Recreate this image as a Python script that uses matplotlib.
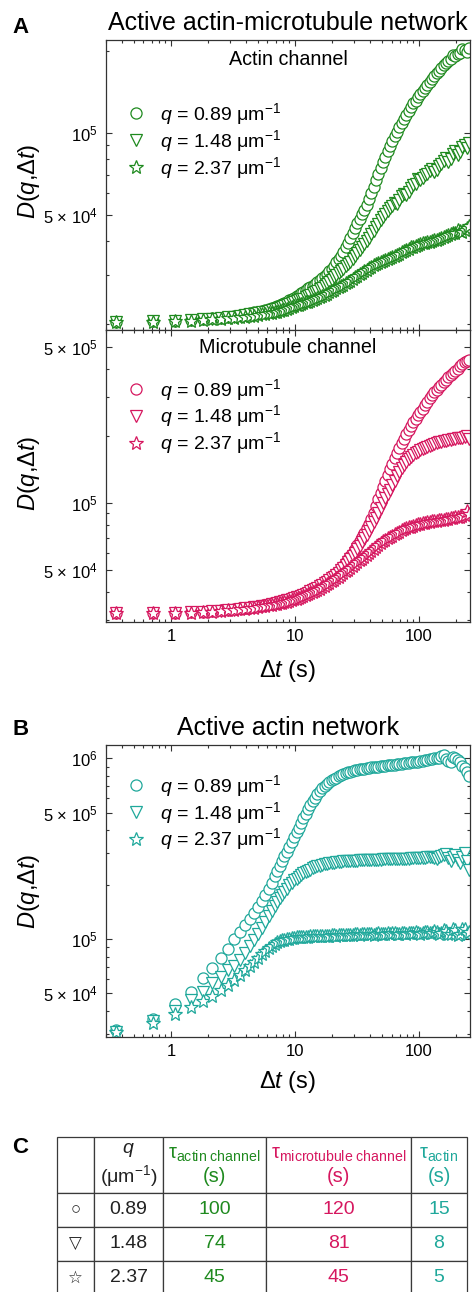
import numpy as np
import matplotlib.pyplot as plt
from matplotlib.ticker import FixedLocator, NullFormatter

plt.rcParams['font.family'] = ['Liberation Sans', 'DejaVu Sans']
plt.rcParams['mathtext.fontset'] = 'custom'
plt.rcParams['mathtext.rm'] = 'Liberation Sans'
plt.rcParams['mathtext.it'] = 'Liberation Sans:italic'
plt.rcParams['mathtext.bf'] = 'Liberation Sans:bold'

# lag times (s)
lag = [0.36, 0.72, 1.08, 1.44, 1.80, 2.16, 2.52, 2.88, 3.24, 3.60,
       3.96, 4.32, 4.68, 5.04, 5.40, 5.76, 6.12, 6.48, 6.84, 7.20,
       7.5, 7.9, 8.2, 8.6, 9.0, 9.4, 9.8, 10.3, 10.7, 11.2,
       11.7, 12.2, 12.7, 13.3, 13.9, 14.5, 15.1, 15.8, 16.5, 17.3,
       18.1, 18.9, 19.7, 20.6, 21.5, 22.5, 23.5, 24.5, 25.6, 26.7,
       27.9, 29.1, 30.4, 31.8, 33.2, 34.6, 36.2, 37.8, 39.5, 41.2,
       43.0, 44.9, 46.9, 49.0, 51.2, 53.4, 55.8, 58.2, 60.8, 63.5,
       66.3, 69.2, 72.3, 75.5, 78.8, 82.3, 86.0, 89.8, 93.8, 97.9,
       102.3, 106.8, 111.5, 116.4, 121.6, 127.0, 132.6, 138.5, 144.6, 151.0,
       157.7, 164.7, 172.0, 179.6, 187.6, 195.9, 204.6, 213.6, 223.1, 233.0,
       241.0, 250.0]

# D(q, dt) in units of 1e4
# active actin-microtubule network, actin channel
am_actin_q1 = [2.03, 2.04, 2.05, 2.06, 2.07, 2.09, 2.10, 2.12, 2.14, 2.15,
               2.17, 2.18, 2.20, 2.21, 2.23, 2.24, 2.26, 2.28, 2.30, 2.32,
               2.34, 2.36, 2.38, 2.40, 2.43, 2.46, 2.49, 2.52, 2.55, 2.59,
               2.62, 2.66, 2.69, 2.72, 2.75, 2.79, 2.84, 2.89, 2.94, 2.99,
               3.05, 3.11, 3.18, 3.25, 3.35, 3.45, 3.55, 3.66, 3.80, 3.95,
               4.12, 4.29, 4.48, 4.67, 4.85, 5.04, 5.23, 5.43, 5.70, 6.01,
               6.35, 6.71, 7.05, 7.43, 7.80, 8.15, 8.55, 8.94, 9.35, 9.73,
               10.1, 10.5, 10.9, 11.2, 11.6, 12.0, 12.4, 12.8, 13.1, 13.5,
               13.9, 14.2, 14.6, 15.0, 15.3, 15.7, 16.2, 16.6, 16.9, 17.3,
               17.7, 18.0, 18.3, 18.6, 19.2, 19.1, 19.4, 19.6, 20.3, 20.1,
               19.8, 20.4]
am_actin_q2 = [2.03, 2.04, 2.05, 2.06, 2.07, 2.08, 2.09, 2.11, 2.12, 2.14,
               2.15, 2.16, 2.17, 2.19, 2.20, 2.21, 2.23, 2.24, 2.26, 2.27,
               2.28, 2.30, 2.31, 2.33, 2.35, 2.37, 2.39, 2.41, 2.43, 2.45,
               2.47, 2.50, 2.52, 2.55, 2.58, 2.61, 2.64, 2.67, 2.71, 2.75,
               2.79, 2.84, 2.89, 2.95, 3.00, 3.06, 3.12, 3.18, 3.24, 3.30,
               3.37, 3.45, 3.53, 3.62, 3.71, 3.80, 3.90, 4.00, 4.12, 4.24,
               4.37, 4.50, 4.65, 4.80, 4.92, 5.05, 5.15, 5.28, 5.40, 5.55,
               5.50, 5.65, 5.85, 5.95, 5.90, 6.05, 6.30, 6.45, 6.50, 6.75,
               6.70, 6.85, 7.00, 7.05, 7.25, 7.35, 7.15, 7.30, 7.55, 7.70,
               7.85, 8.10, 7.80, 8.00, 8.35, 8.60, 8.30, 8.50, 8.85, 9.00,
               8.80, 9.20]
am_actin_q3 = [2.02, 2.03, 2.04, 2.05, 2.06, 2.07, 2.08, 2.09, 2.10, 2.11,
               2.12, 2.13, 2.14, 2.15, 2.16, 2.17, 2.18, 2.19, 2.20, 2.21,
               2.22, 2.24, 2.25, 2.27, 2.28, 2.30, 2.31, 2.33, 2.34, 2.36,
               2.37, 2.39, 2.40, 2.42, 2.44, 2.46, 2.48, 2.50, 2.52, 2.55,
               2.57, 2.60, 2.63, 2.66, 2.69, 2.72, 2.75, 2.78, 2.81, 2.84,
               2.87, 2.91, 2.95, 2.99, 3.03, 3.07, 3.11, 3.15, 3.19, 3.23,
               3.27, 3.30, 3.34, 3.37, 3.40, 3.43, 3.46, 3.49, 3.52, 3.55,
               3.58, 3.61, 3.65, 3.68, 3.72, 3.76, 3.80, 3.83, 3.86, 3.88,
               3.91, 3.93, 3.95, 3.97, 3.99, 4.01, 4.04, 4.06, 4.09, 4.12,
               4.16, 4.19, 4.22, 4.25, 4.28, 4.30, 4.40, 4.36, 4.32, 4.42,
               4.46, 4.55]
# active actin-microtubule network, microtubule channel
am_mt_q1 = [3.21, 3.22, 3.23, 3.24, 3.26, 3.28, 3.30, 3.32, 3.35, 3.37,
            3.39, 3.41, 3.43, 3.45, 3.47, 3.50, 3.52, 3.55, 3.57, 3.60,
            3.62, 3.64, 3.66, 3.69, 3.72, 3.75, 3.78, 3.82, 3.85, 3.89,
            3.93, 3.97, 4.01, 4.06, 4.11, 4.16, 4.22, 4.28, 4.35, 4.42,
            4.50, 4.58, 4.67, 4.76, 4.87, 4.98, 5.11, 5.25, 5.42, 5.60,
            5.80, 6.00, 6.25, 6.50, 6.77, 7.05, 7.37, 7.70, 8.08, 8.50,
            9.05, 9.70, 10.4, 11.1, 11.8, 12.6, 13.4, 14.2, 15.0, 15.9,
            16.7, 17.6, 18.5, 19.4, 20.3, 21.2, 22.1, 23.0, 23.9, 24.8,
            25.6, 26.5, 27.5, 28.5, 29.5, 30.5, 31.4, 32.3, 33.1, 34.0,
            34.9, 35.8, 36.6, 37.5, 38.4, 39.3, 40.1, 41.0, 41.9, 42.8,
            43.4, 44.0]
am_mt_q2 = [3.21, 3.22, 3.23, 3.24, 3.25, 3.27, 3.29, 3.31, 3.33, 3.35,
            3.37, 3.39, 3.41, 3.43, 3.45, 3.47, 3.50, 3.52, 3.54, 3.57,
            3.59, 3.61, 3.63, 3.66, 3.68, 3.71, 3.74, 3.78, 3.81, 3.85,
            3.89, 3.93, 3.97, 4.02, 4.07, 4.12, 4.17, 4.23, 4.30, 4.37,
            4.44, 4.52, 4.60, 4.68, 4.78, 4.88, 5.00, 5.12, 5.27, 5.42,
            5.60, 5.78, 5.99, 6.20, 6.44, 6.68, 6.94, 7.20, 7.52, 7.85,
            8.22, 8.60, 9.05, 9.50, 10.0, 10.5, 11.0, 11.5, 12.0, 12.6,
            13.2, 13.8, 14.3, 14.8, 15.3, 15.7, 16.1, 16.4, 16.7, 17.0,
            17.3, 17.5, 17.7, 17.9, 18.1, 18.2, 18.4, 18.5, 18.7, 18.8,
            18.9, 19.0, 19.1, 19.2, 19.3, 19.4, 19.5, 19.5, 19.6, 19.7,
            19.9, 19.3]
am_mt_q3 = [3.20, 3.21, 3.22, 3.23, 3.24, 3.26, 3.28, 3.30, 3.32, 3.34,
            3.36, 3.38, 3.40, 3.42, 3.44, 3.46, 3.48, 3.50, 3.52, 3.54,
            3.56, 3.58, 3.60, 3.62, 3.64, 3.67, 3.70, 3.73, 3.76, 3.80,
            3.83, 3.87, 3.91, 3.95, 3.99, 4.04, 4.09, 4.14, 4.20, 4.26,
            4.32, 4.39, 4.46, 4.53, 4.60, 4.68, 4.76, 4.85, 4.94, 5.03,
            5.12, 5.22, 5.32, 5.42, 5.53, 5.64, 5.76, 5.88, 6.00, 6.12,
            6.25, 6.38, 6.50, 6.62, 6.74, 6.85, 6.95, 7.05, 7.15, 7.25,
            7.35, 7.45, 7.54, 7.62, 7.70, 7.78, 7.85, 7.92, 7.98, 8.03,
            8.08, 8.12, 8.16, 8.20, 8.24, 8.27, 8.30, 8.33, 8.37, 8.40,
            8.44, 8.47, 8.51, 8.55, 8.58, 8.62, 8.66, 8.70, 8.75, 8.80,
            9.20, 8.90]
# active actin network
a_q1 = [3.14, 3.62, 4.38, 5.10, 6.05, 6.95, 7.90, 8.85, 9.95, 11.0,
        11.9, 12.9, 14.0, 15.1, 16.3, 17.5, 19.0, 20.5, 22.2, 23.8,
        25.3, 27.0, 28.7, 30.5, 32.4, 34.5, 36.7, 39.0, 41.4, 44.0,
        46.7, 49.5, 52.2, 55.0, 57.7, 60.5, 63.3, 66.0, 68.3, 70.5,
        72.3, 74.0, 75.6, 77.0, 78.3, 79.5, 80.5, 81.5, 82.5, 83.5,
        84.3, 85.0, 85.7, 86.3, 86.8, 87.3, 87.8, 88.2, 88.6, 89.0,
        89.4, 89.7, 90.0, 90.3, 90.7, 91.0, 91.4, 91.7, 92.0, 92.3,
        92.7, 93.0, 93.4, 93.7, 94.1, 94.5, 94.9, 95.3, 95.6, 96.0,
        96.5, 97.0, 97.5, 98.0, 98.7, 99.5, 100.5, 101.0, 100.0, 103.0,
        104.0, 99.0, 97.0, 96.0, 102.0, 101.0, 98.0, 95.0, 91.0, 88.0,
        84.0, 80.0]
a_q2 = [3.07, 3.50, 4.02, 4.60, 5.11, 5.68, 6.20, 6.70, 7.10, 7.70,
        8.40, 9.20, 9.90, 10.7, 11.5, 12.5, 13.4, 14.3, 15.2, 16.1,
        16.8, 17.5, 18.2, 19.0, 19.8, 20.5, 21.1, 21.6, 22.1, 22.6,
        23.1, 23.5, 23.9, 24.2, 24.6, 24.9, 25.2, 25.4, 25.7, 25.9,
        26.1, 26.2, 26.4, 26.5, 26.6, 26.7, 26.8, 26.9, 27.0, 27.0,
        27.1, 27.1, 27.2, 27.2, 27.3, 27.3, 27.4, 27.4, 27.4, 27.4,
        27.5, 27.5, 27.5, 27.5, 27.6, 27.6, 27.6, 27.6, 27.7, 27.7,
        27.8, 27.8, 27.8, 27.8, 27.9, 27.9, 28.0, 28.0, 28.0, 28.0,
        28.1, 28.1, 28.2, 28.3, 28.4, 28.5, 28.0, 27.6, 28.3, 28.8,
        29.2, 29.5, 28.0, 27.0, 28.5, 29.0, 27.5, 26.5, 28.5, 30.0,
        27.0, 24.0]
a_q3 = [3.07, 3.42, 3.86, 4.22, 4.55, 4.85, 5.20, 5.55, 5.93, 6.30,
        6.70, 7.10, 7.50, 7.90, 8.30, 8.60, 8.90, 9.20, 9.40, 9.60,
        9.73, 9.85, 9.93, 10.0, 10.05, 10.1, 10.15, 10.2, 10.2, 10.25,
        10.3, 10.3, 10.3, 10.35, 10.4, 10.4, 10.35, 10.4, 10.45, 10.45,
        10.4, 10.45, 10.5, 10.5, 10.45, 10.5, 10.55, 10.5, 10.55, 10.55,
        10.5, 10.55, 10.6, 10.6, 10.55, 10.6, 10.65, 10.6, 10.65, 10.65,
        10.55, 10.6, 10.75, 10.7, 10.6, 10.65, 10.75, 10.7, 10.8, 10.75,
        10.6, 10.7, 10.85, 10.8, 10.7, 10.75, 10.85, 10.8, 10.9, 10.85,
        10.7, 10.8, 11.0, 10.9, 10.75, 10.85, 11.1, 11.0, 10.7, 10.8,
        11.2, 11.1, 10.6, 10.7, 11.3, 11.2, 10.5, 10.6, 11.4, 11.3,
        10.7, 10.9]

q_labels = [r'$q$ = 0.89 μm$^{-1}$', r'$q$ = 1.48 μm$^{-1}$', r'$q$ = 2.37 μm$^{-1}$']

# table C
tab_symbols = ['○', '▽', '☆']
tab_q = ['0.89', '1.48', '2.37']
tab_tau_actin_ch = ['100', '74', '45']
tab_tau_mt_ch = ['120', '81', '45']
tab_tau_actin = ['15', '8', '5']

GREEN = '#1f8a1f'
PINK = '#d6175f'
TEAL = '#1fa89b'

W, H = 473, 1292
fig = plt.figure(figsize=(W / 100, H / 100), dpi=100)


def px_axes(x0, y0, x1, y1):
    return fig.add_axes([x0 / W, 1 - y1 / H, (x1 - x0) / W, (y1 - y0) / H])


markers = [('o', 8), ('v', 8.5), ('*', 10)]
x_minor = [0.3, 0.4, 0.5, 0.6, 0.7, 0.8, 0.9, 2, 3, 4, 5, 6, 7, 8, 9,
           20, 30, 40, 50, 60, 70, 80, 90, 200]


def draw(ax, series, color, ylim, ymaj, ylab, ymin, leg_top):
    handles = []
    for vals, (mk, ms) in zip(series, markers):
        h, = ax.plot(lag, np.array(vals) * 1e4, ls='none', marker=mk, ms=ms,
                     mfc='white', mec=color, mew=0.9)
        handles.append(h)
    ax.set_xscale('log')
    ax.set_yscale('log')
    ax.set_xlim(0.3, 257)
    ax.set_ylim(*ylim)
    ax.xaxis.set_major_locator(FixedLocator([1, 10, 100]))
    ax.xaxis.set_minor_locator(FixedLocator(x_minor))
    ax.xaxis.set_minor_formatter(NullFormatter())
    ax.set_xticklabels(['1', '10', '100'])
    ax.yaxis.set_major_locator(FixedLocator(ymaj))
    ax.set_yticklabels(ylab)
    ax.yaxis.set_minor_locator(FixedLocator(ymin))
    ax.yaxis.set_minor_formatter(NullFormatter())
    ax.tick_params(which='both', direction='in', top=True, right=True,
                   labelsize=12, width=0.8, color='#333333')
    ax.tick_params(which='major', length=4.5)
    ax.tick_params(which='minor', length=2.5)
    ax.tick_params(axis='y', pad=6)
    ax.tick_params(axis='x', pad=5)
    for s in ax.spines.values():
        s.set_linewidth(0.9)
        s.set_color('#333333')
    ax.legend(handles, q_labels, loc='upper left', bbox_to_anchor=(0.055, leg_top),
              frameon=False, fontsize=14, handlelength=1.0, handletextpad=0.75,
              labelspacing=0.05, borderpad=0, borderaxespad=0)
    ax.set_ylabel(r'$D(q{,}\Delta t)$', fontsize=17)


# panel A, actin channel
ax1 = px_axes(106, 40, 470, 330)
draw(ax1, [am_actin_q1, am_actin_q2, am_actin_q3], GREEN, (1.894e4, 2.186e5),
     [5e4, 1e5], [r'5 × 10$^4$', r'10$^5$'],
     [2e4, 3e4, 4e4, 6e4, 7e4, 8e4, 9e4, 2e5], 0.79)
ax1.tick_params(axis='x', labelbottom=False)
ax1.yaxis.set_label_coords(-0.175, 0.514)
ax1.text(0.5, 1 - (65 - 40) / 290, 'Actin channel', transform=ax1.transAxes,
         ha='center', va='baseline', fontsize=14.2)

# panel A, microtubule channel
ax2 = px_axes(106, 330, 470, 622)
draw(ax2, [am_mt_q1, am_mt_q2, am_mt_q3], PINK, (2.93e4, 5.97e5),
     [5e4, 1e5, 5e5], [r'5 × 10$^4$', r'10$^5$', r'5 × 10$^5$'],
     [3e4, 4e4, 6e4, 7e4, 8e4, 9e4, 2e5, 3e5, 4e5], 0.84)
ax2.yaxis.set_label_coords(-0.175, 0.51)
ax2.set_xlabel(r'$\Delta t$ (s)', fontsize=17)
ax2.xaxis.set_label_coords(0.5, -0.125)
ax2.text(0.5, 1 - (353 - 330) / 292, 'Microtubule channel', transform=ax2.transAxes,
         ha='center', va='baseline', fontsize=14.2)

# panel B
ax3 = px_axes(106, 745, 470, 1037)
draw(ax3, [a_q1, a_q2, a_q3], TEAL, (2.87e4, 1.185e6),
     [5e4, 1e5, 5e5, 1e6], [r'5 × 10$^4$', r'10$^5$', r'5 × 10$^5$', r'10$^6$'],
     [3e4, 4e4, 6e4, 7e4, 8e4, 9e4, 2e5, 3e5, 4e5, 6e5, 7e5, 8e5, 9e5], 0.905)
ax3.yaxis.set_label_coords(-0.175, 0.5)
ax3.set_xlabel(r'$\Delta t$ (s)', fontsize=17)
ax3.xaxis.set_label_coords(0.5, -0.108)

# titles and panel letters
fig.text(288 / W, 1 - 30 / H, 'Active actin-microtubule network', ha='center',
         va='baseline', fontsize=18)
fig.text(288 / W, 1 - 735 / H, 'Active actin network', ha='center',
         va='baseline', fontsize=18)
for letter, yb in [('A', 33), ('B', 735), ('C', 1153)]:
    fig.text(12 / W, 1 - yb / H, letter, ha='left', va='baseline',
             fontsize=16, fontweight='bold')

# panel C table
ax_t = px_axes(57, 1137, 467, 1295)
ax_t.axis('off')
header = ['', '$q$\n(μm$^{-1}$)',
          r'$\mathrm{τ}_{\mathrm{actin\ channel}}$' + '\n(s)',
          r'$\mathrm{τ}_{\mathrm{microtubule\ channel}}$' + '\n(s)',
          r'$\mathrm{τ}_{\mathrm{actin}}$' + '\n(s)']
rows = [header] + [list(r) for r in zip(tab_symbols, tab_q, tab_tau_actin_ch,
                                        tab_tau_mt_ch, tab_tau_actin)]
col_w = [37, 69, 103, 145, 56]
row_h = [56, 34, 34, 34]
col_c = ['#222222', '#222222', GREEN, PINK, TEAL]
tab = ax_t.table(cellText=rows, cellLoc='center', bbox=[0, 0, 1, 1])
tab.auto_set_font_size(False)
tab.set_fontsize(14)
for (r, c), cell in tab.get_celld().items():
    cell.set_width(col_w[c] / sum(col_w))
    cell.set_height(row_h[r] / sum(row_h))
    cell.set_edgecolor('#3a3a3a')
    cell.set_linewidth(0.9)
    cell.get_text().set_color(col_c[c])
    if c == 0:
        cell.get_text().set_fontsize(12)
    if r == 0 and c > 1:
        cell.get_text().set_fontsize(14.5)

fig.savefig('out.png', dpi=100, facecolor='white')
